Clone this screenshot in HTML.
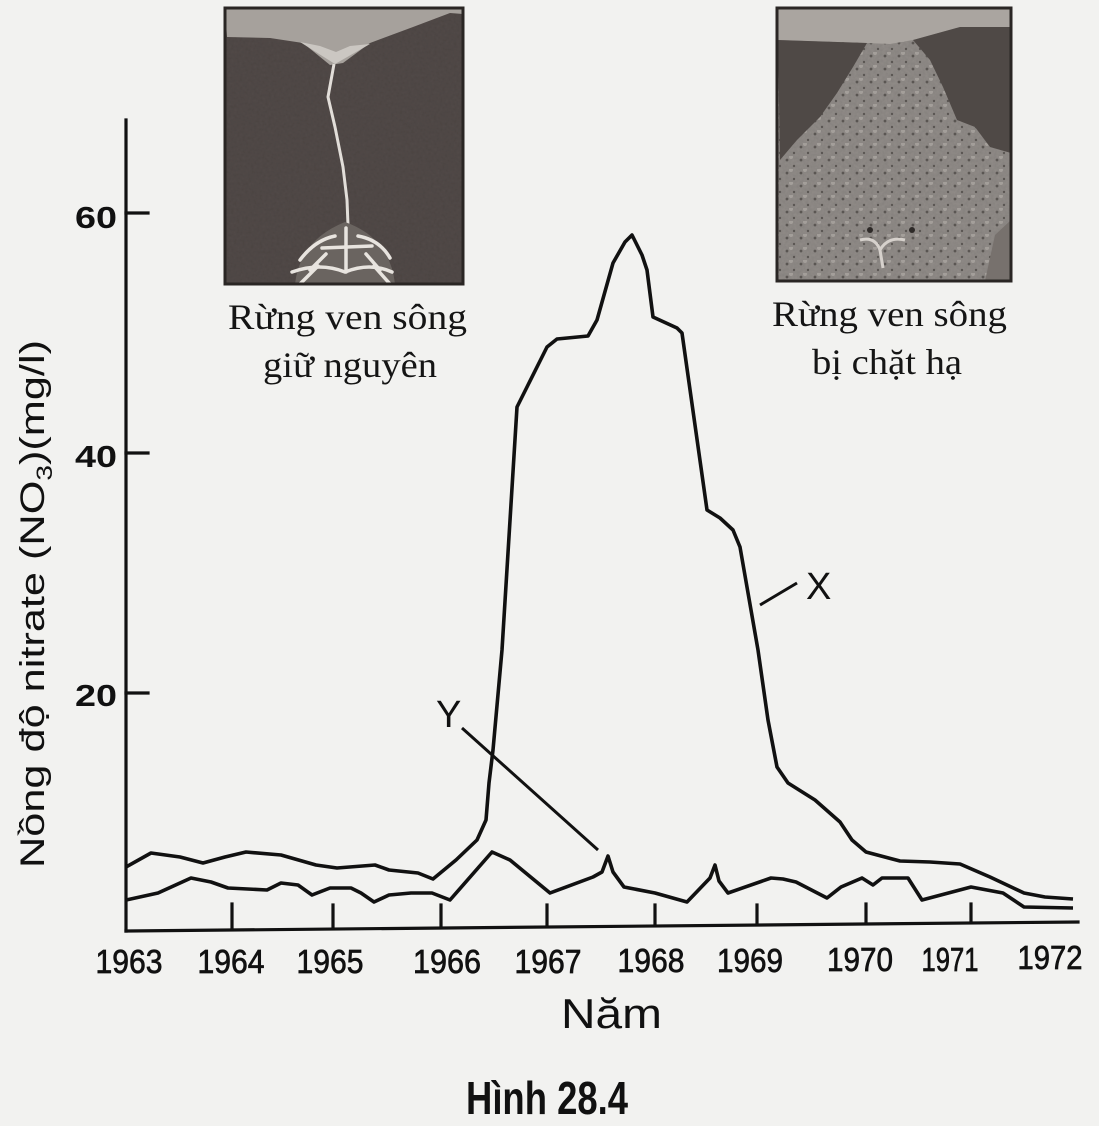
<!DOCTYPE html>
<html><head><meta charset="utf-8">
<style>
html,body{margin:0;padding:0;background:#f2f2f0;}
svg{display:block;}
</style></head>
<body>
<svg width="1099" height="1126" viewBox="0 0 1099 1126" xmlns="http://www.w3.org/2000/svg">
<defs>
<filter id="tex" x="0" y="0" width="100%" height="100%">
<feTurbulence type="fractalNoise" baseFrequency="0.35" numOctaves="2" seed="3" result="n"/>
<feColorMatrix in="n" type="matrix" values="0 0 0 0 0  0 0 0 0 0  0 0 0 0 0  0 0 0 0.18 0" result="d"/>
<feComposite in="d" in2="SourceGraphic" operator="in" result="dd"/>
<feMerge><feMergeNode in="SourceGraphic"/><feMergeNode in="dd"/></feMerge>
</filter>
<pattern id="dots" width="14" height="13" patternUnits="userSpaceOnUse">
<circle cx="3" cy="4" r="1.4" fill="#3a3633"/>
<circle cx="10" cy="10" r="1.2" fill="#3a3633"/>
<circle cx="7" cy="1" r="2" fill="#b4afaa"/>
</pattern>
<clipPath id="cr"><rect x="777" y="8" width="234" height="273"/></clipPath>
<clipPath id="cl"><rect x="225" y="8" width="238" height="276"/></clipPath>
</defs>
<rect width="1099" height="1126" fill="#f2f2f0"/>

<!-- Left photo -->
<g clip-path="url(#cl)">
<rect x="225" y="8" width="238" height="276" fill="#524b48" filter="url(#tex)"/>
<polygon points="225,8 463,8 463,14 450,13 413,27 370,43 343,63 330,65 303,43 270,38 227,37" fill="#a6a19c"/>
<polygon points="300,42 335,64 370,44 350,46 336,52 320,46" fill="#cbc7c2"/>
<path d="M334,64 L328,97 L335,127 L343,167 L347,200 L348,225" stroke="#e2ded9" stroke-width="3" fill="none"/>
<path d="M295,284 Q300,240 345,222 Q390,238 395,284 Z" fill="#6a6460"/>
<g stroke="#e8e4df" stroke-width="3.5" fill="none" stroke-linecap="round">
<path d="M346,228 L346,272"/>
<path d="M322,248 L372,246"/>
<path d="M300,260 Q315,240 335,236"/>
<path d="M390,258 Q380,240 358,236"/>
<path d="M292,272 Q320,262 345,272 Q370,262 392,272"/>
<path d="M300,284 L318,266"/>
<path d="M390,284 L374,266"/>
<path d="M310,270 L326,254"/>
<path d="M380,270 L366,254"/>
</g>
</g>
<rect x="225" y="8" width="238" height="276" fill="none" stroke="#2a2624" stroke-width="3"/>

<!-- Right photo -->
<g clip-path="url(#cr)">
<rect x="777" y="8" width="234" height="273" fill="#928d89" filter="url(#tex)"/>
<rect x="777" y="8" width="234" height="273" fill="url(#dots)" opacity="0.6"/>
<polygon points="777,8 1011,8 1011,27 960,27 913,40 890,44 867,43 777,40" fill="#aaa5a0"/>
<polygon points="778,40 867,43 853,67 837,93 820,117 797,140 780,160" fill="#4f4946"/>
<polygon points="913,40 960,27 1011,27 1011,153 990,147 975,127 957,120 943,87 930,60" fill="#4f4946"/>
<polygon points="995,235 1011,220 1011,281 985,281" fill="#77716d"/>
<path d="M860,240 Q875,236 880,250 Q888,236 905,240" stroke="#d6d1cc" stroke-width="3" fill="none"/>
<path d="M880,250 L883,268" stroke="#d6d1cc" stroke-width="3" fill="none"/>
<circle cx="870" cy="230" r="3" fill="#2e2a28"/>
<circle cx="912" cy="230" r="3" fill="#2e2a28"/>
</g>
<rect x="777" y="8" width="234" height="273" fill="none" stroke="#2a2624" stroke-width="3"/>

<!-- Captions -->
<g font-family="'Liberation Serif', serif" font-size="36" fill="#151515">
<text x="228" y="329" textLength="239" lengthAdjust="spacingAndGlyphs">Rừng ven sông</text>
<text x="263" y="377" textLength="174" lengthAdjust="spacingAndGlyphs">giữ nguyên</text>
<text x="772" y="326" textLength="235" lengthAdjust="spacingAndGlyphs">Rừng ven sông</text>
<text x="812" y="374" textLength="150" lengthAdjust="spacingAndGlyphs">bị chặt hạ</text>
</g>

<!-- Axes -->
<g stroke="#111" stroke-width="3.2" fill="none" stroke-linecap="square">
<path d="M126,120 L126,931"/>
<path d="M126,931 L1078,922"/>
<path d="M126,213 L148,213"/>
<path d="M126,453 L148,453"/>
<path d="M126,693 L148,693"/>
<path d="M232,904 L232,929"/>
<path d="M333,905 L333,928"/>
<path d="M441,905 L441,927"/>
<path d="M547,905 L547,926"/>
<path d="M655,905 L655,925"/>
<path d="M757,905 L757,924"/>
<path d="M866,904 L866,923"/>
<path d="M971,904 L971,922"/>
</g>

<!-- Y tick labels -->
<g font-family="'Liberation Sans', sans-serif" font-weight="bold" font-size="31" fill="#111" text-anchor="end">
<text x="117" y="228" textLength="42" lengthAdjust="spacingAndGlyphs">60</text>
<text x="117" y="467" textLength="42" lengthAdjust="spacingAndGlyphs">40</text>
<text x="117" y="706" textLength="42" lengthAdjust="spacingAndGlyphs">20</text>
</g>

<!-- X labels -->
<g font-family="'Liberation Sans', sans-serif" font-size="33" fill="#111" stroke="#111" stroke-width="0.7" text-anchor="middle">
<text x="129" y="973" textLength="67" lengthAdjust="spacingAndGlyphs">1963</text>
<text x="231" y="973" textLength="67" lengthAdjust="spacingAndGlyphs">1964</text>
<text x="330" y="973" textLength="67" lengthAdjust="spacingAndGlyphs">1965</text>
<text x="447" y="973" textLength="68" lengthAdjust="spacingAndGlyphs">1966</text>
<text x="548" y="973" textLength="67" lengthAdjust="spacingAndGlyphs">1967</text>
<text x="651" y="972" textLength="67" lengthAdjust="spacingAndGlyphs">1968</text>
<text x="750" y="972" textLength="66" lengthAdjust="spacingAndGlyphs">1969</text>
<text x="860" y="971" textLength="66" lengthAdjust="spacingAndGlyphs">1970</text>
<text x="950" y="971" textLength="57" lengthAdjust="spacingAndGlyphs">1971</text>
<text x="1050" y="969" textLength="65" lengthAdjust="spacingAndGlyphs">1972</text>
</g>

<text x="561" y="1028" font-family="'Liberation Sans', sans-serif" font-size="42" fill="#111" textLength="101" lengthAdjust="spacingAndGlyphs">Năm</text>

<text x="466" y="1114" font-family="'Liberation Sans Narrow', 'Liberation Sans', sans-serif" font-weight="bold" font-size="46" fill="#111" textLength="162" lengthAdjust="spacingAndGlyphs">Hình 28.4</text>

<!-- Y title -->
<text transform="translate(44,868) rotate(-90)" font-family="'Liberation Sans', sans-serif" font-size="34" fill="#111" textLength="528" lengthAdjust="spacingAndGlyphs">Nồng độ nitrate (NO<tspan font-size="22" dy="8">3</tspan><tspan dy="-8">)(mg/l)</tspan></text>

<!-- Series X -->
<path fill="none" stroke="#111" stroke-width="3.6" stroke-linejoin="round" d="M126,867 L151,853 L180,857 L203,863 L225,857 L246,852 L281,855 L316,865 L337,868 L375,865 L389,870 L418,873 L433,879 L456,860 L477,840 L486,820 L489,783 L493,750 L502,650 L517,407 L527,387 L547,347 L557,339 L588,336 L597,320 L613,263 L625,242 L632,235 L642,255 L647,270 L653,317 L677,328 L682,333 L707,510 L720,518 L733,530 L740,547 L758,650 L768,720 L777,767 L788,783 L815,800 L840,822 L852,840 L866,852 L900,861 L930,862 L960,864 L990,877 L1024,893 L1045,897 L1073,899"/>

<!-- Series Y -->
<path fill="none" stroke="#111" stroke-width="3.6" stroke-linejoin="round" d="M126,900 L158,893 L191,878 L211,882 L228,888 L267,890 L281,883 L298,885 L312,895 L330,888 L351,888 L361,893 L374,902 L389,895 L411,893 L432,893 L450,900 L492,852 L510,860 L550,893 L593,877 L602,872 L608,856 L613,872 L624,887 L655,893 L687,902 L710,878 L715,865 L719,881 L728,893 L771,878 L783,879 L796,882 L827,898 L841,887 L862,878 L873,885 L882,878 L908,878 L922,900 L971,887 L1003,893 L1024,907 L1073,908"/>

<!-- Pointers -->
<g stroke="#111" stroke-width="3" fill="none">
<path d="M462,728 L598,850"/>
<path d="M760,605 L797,583"/>
</g>
<g font-family="'Liberation Sans', sans-serif" font-size="38" fill="#111">
<text x="436" y="727">Y</text>
<text x="806" y="599">X</text>
</g>
</svg>
</body></html>
